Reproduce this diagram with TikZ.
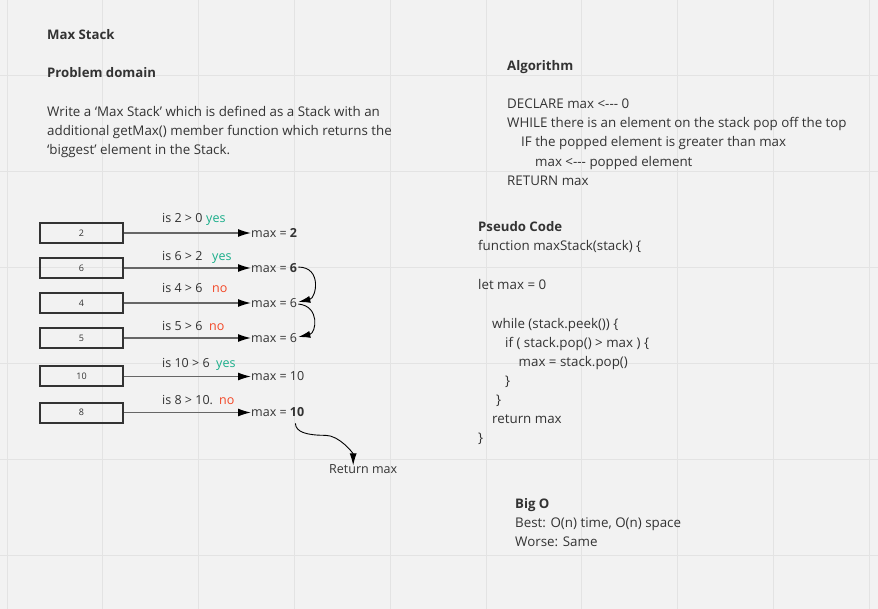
\documentclass[tikz,border=0pt]{standalone}
\usepackage{fontspec}
\setmainfont{Open Sans}
\usetikzlibrary{arrows.meta}
\definecolor{bg}{HTML}{F2F2F2}
\definecolor{gridc}{HTML}{E3E3E3}
\definecolor{txt}{HTML}{333333}
\definecolor{yesc}{HTML}{1AAE8A}
\definecolor{noc}{HTML}{F24726}
\begin{document}
\begin{tikzpicture}[x=1pt,y=-1pt,
  tx/.style={anchor=base west, inner sep=0pt, text=txt, font=\fontsize{13.35}{15}\selectfont},
  hd/.style={tx, font=\fontsize{13.2}{15}\selectfont\bfseries},
  sm/.style={tx, font=\fontsize{12.5}{15}\selectfont},
  yesl/.style={sm, text=yesc},
  nol/.style={sm, text=noc},
  stackbox/.style={draw=txt, line width=2pt, minimum width=83pt, minimum height=20pt, inner sep=0pt, text=txt, font=\fontsize{9}{10}\selectfont},
  flow/.style={draw=black!60, line width=1.4pt, -{Latex[length=13pt,width=8pt,color=black]}},
  curv/.style={draw=black, line width=0.9pt, -{Latex[length=12pt,width=7pt]}}
]
\fill[bg] (0,0) rectangle (878,609);
\useasboundingbox (0,0) rectangle (878,609);
\foreach \i in {0,...,9} \draw[gridc, line width=1pt] (7+95.8*\i,0) -- (7+95.8*\i,609);
\foreach \i in {0,...,5} \draw[gridc, line width=1pt] (0,76+95.8*\i) -- (878,76+95.8*\i);

% left texts
\node[hd] (title) at (47,40) {Max Stack};
\node[hd] (pd) at (47,78) {Problem domain};
\node[tx] (p1) at (47,117) {Write a ‘Max Stack’ which is defined as a Stack with an};
\node[tx] (p2) at (47,136) {additional getMax() member function which returns the};
\node[tx] (p3) at (47,155) {‘biggest’ element in the Stack.};

% stack boxes
\node[stackbox] (b1) at (81.5,233) {2};
\node[stackbox] (b2) at (81.5,268) {6};
\node[stackbox] (b3) at (81.5,303) {4};
\node[stackbox] (b4) at (81.5,338) {5};
\node[stackbox] (b5) at (81.5,376.5) {10};
\node[stackbox] (b6) at (81.5,412.5) {8};

% max labels
\node[sm] (m1) at (251,237.5) {max = \textbf{2}};
\node[sm] (m2) at (251,272.5) {max = \textbf{6}};
\node[sm] (m3) at (251,307.5) {max = 6};
\node[sm] (m4) at (251,342.5) {max = 6};
\node[sm] (m5) at (251,381) {max = 10};
\node[sm] (m6) at (251,417) {max = \textbf{10}};

% comparison labels
\node[sm] (q1) at (162,223) {is 2 > 0};
\node[yesl] (a1) at (206,223) {yes};
\node[sm] (q2) at (162,261) {is 6 > 2};
\node[yesl] (a2) at (212,261) {yes};
\node[sm] (q3) at (162,293) {is 4 > 6};
\node[nol] (a3) at (212,293) {no};
\node[sm] (q4) at (162,331) {is 5 > 6};
\node[nol] (a4) at (209,331) {no};
\node[sm] (q5) at (162,367) {is 10 > 6};
\node[yesl] (a5) at (216,367) {yes};
\node[sm] (q6) at (162,405) {is 8 > 10.};
\node[nol] (a6) at (219,405) {no};

% straight arrows
\foreach \k in {1,...,6} \draw[flow] (b\k.east) -- (b\k.east -| m\k.west);

% curved arrows
\draw[curv] ([xshift=1pt,yshift=1pt]m2.east) .. controls +(24,0) and +(18,-4) .. ([xshift=1pt,yshift=1pt]m3.east);
\draw[curv] ([xshift=1pt,yshift=-1pt]m3.east) .. controls +(22,2) and +(18,-4) .. ([xshift=1pt,yshift=1pt]m4.east);

% return
\node[sm] (ret) at (329,473) {Return max};
\coordinate (rs) at ([xshift=-9pt,yshift=-6pt]m6.south east);
\draw[curv] (rs) .. controls +(0,9) and +(-18,0) .. ++(30,12) .. controls +(14,0) and +(0,-12) .. ([xshift=-10pt,yshift=-1.5pt]ret.north);

% algorithm
\node[hd] (alg) at (507,71) {Algorithm};
\node[tx] (l1) at (507,108.5) {DECLARE max <-{}-{}- 0};
\node[tx] (l2) at (507,128) {WHILE there is an element on the stack pop off the top};
\node[tx] (l3) at (521,147) {IF the popped element is greater than max};
\node[tx] (l4) at (535,166.5) {max <-{}-{}- popped element};
\node[tx] (l5) at (507,186) {RETURN max};

% pseudo code
\node[hd] (pc) at (478,232) {Pseudo Code};
\node[tx] (c1) at (478,251) {function maxStack(stack) \{};
\node[tx] (c2) at (478,290) {let max = 0};
\node[tx] (c3) at (492,328.5) {while (stack.peek()) \{};
\node[tx] (c4) at (505,347.5) {if ( stack.pop() > max ) \{};
\node[tx] (c5) at (518.5,366.5) {max = stack.pop()};
\node[tx] (c6) at (505,385.5) {\}};
\node[tx] (c7) at (496,404.5) {\}};
\node[tx] (c8) at (492,423.5) {return max};
\node[tx] (c9) at (478,442.5) {\}};

% big O
\node[hd] (bo) at (515,508) {Big O};
\node[tx] (bo1) at (515,527) {Best: O(n) time, O(n) space};
\node[tx] (bo2) at (515,546) {Worse: Same};
\end{tikzpicture}
\end{document}
